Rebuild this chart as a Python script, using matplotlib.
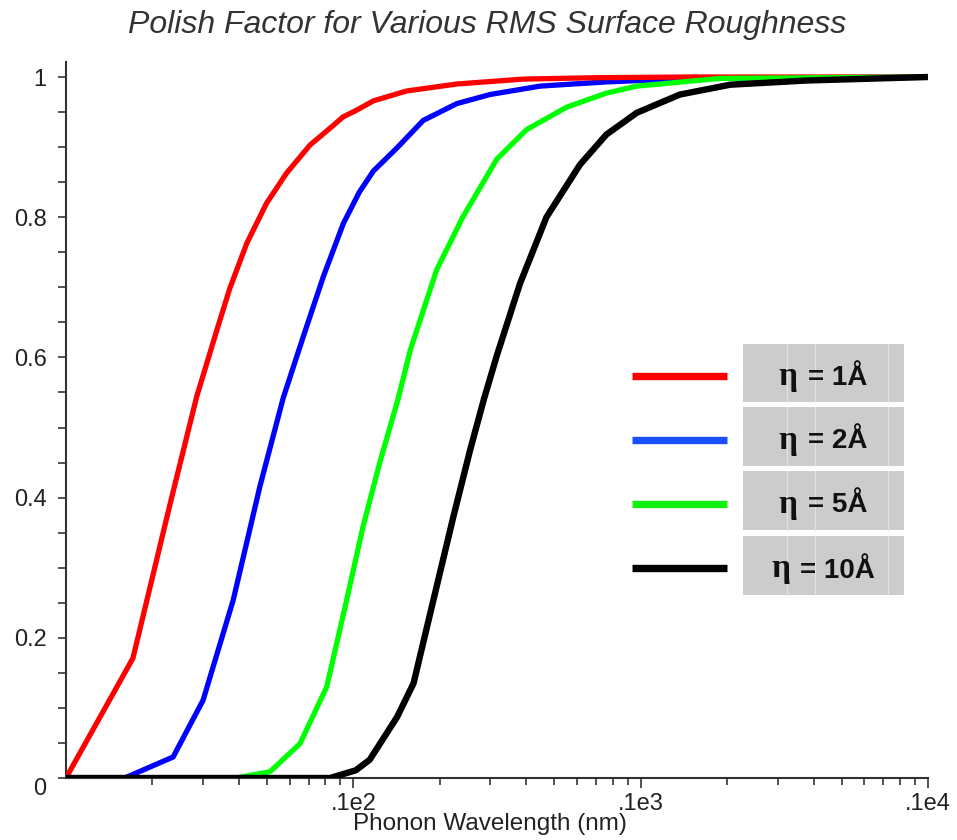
import numpy as np
import matplotlib
matplotlib.use("Agg")
from matplotlib import pyplot as plt
from matplotlib.lines import Line2D
from matplotlib.patches import Rectangle
from matplotlib.ticker import FixedLocator, FixedFormatter, LogLocator, NullFormatter

plt.rcParams['font.family'] = ['Liberation Sans', 'DejaVu Sans']

# phonon wavelength (nm) and polish factor for each rms roughness
lam_1 = [1, 1.71, 2.3, 2.85, 3.35, 3.72, 4.26, 4.99, 5.86, 7.07, 8.52, 9.2, 10.3, 11.75,
         15.3, 22.9, 39, 70, 150, 1000]
p_1 = [0, 0.171, 0.39, 0.544, 0.639, 0.699, 0.763, 0.82, 0.863, 0.903, 0.931, 0.943, 0.953,
       0.966, 0.98, 0.99, 0.997, 0.999, 1.0, 1.0]

lam_2 = [1, 1.6, 2.36, 3.0, 3.82, 4.73, 5.7, 6.7, 7.86, 9.23, 10.5, 11.75, 14.2, 17.5, 22.9,
         29.9, 44.7, 76, 150, 1000]
p_2 = [0, 0, 0.03, 0.111, 0.254, 0.416, 0.542, 0.63, 0.715, 0.791, 0.836, 0.866, 0.899,
       0.938, 0.962, 0.975, 0.987, 0.993, 0.998, 1.0]

lam_5 = [1, 3.9, 5.13, 6.52, 8.08, 9.48, 10.8, 12.4, 14.3, 15.8, 19.5, 24.1, 31.6, 40.1, 55.3,
         76, 97, 189, 1000]
p_5 = [0, 0, 0.009, 0.049, 0.13, 0.254, 0.358, 0.452, 0.54, 0.611, 0.725, 0.801, 0.883,
       0.925, 0.957, 0.977, 0.987, 0.998, 1.0]

lam_10 = [1, 8.3, 10.2, 11.4, 14.2, 16.2, 19, 22.3, 25.5, 28.5, 31.6, 38, 47, 61.5, 76, 97,
          137, 205, 378, 1000]
p_10 = [0, 0, 0.011, 0.026, 0.087, 0.135, 0.254, 0.373, 0.468, 0.541, 0.603, 0.705, 0.80,
        0.875, 0.918, 0.949, 0.975, 0.989, 0.995, 1.0]

eta_values = ['1', '2', '5', '10']
colors = ['#ff0000', '#0000ff', '#00ff00', '#000000']
key_colors = ['#ff0000', '#1a4fff', '#11f011', '#000000']

x_ticks = [10, 100, 1000]
x_ticklabels = ['.1e2', '.1e3', '.1e4']
y_ticks = [0, 0.2, 0.4, 0.6, 0.8, 1.0]
y_ticklabels = ['0', '0.2', '0.4', '0.6', '0.8', '1']

W, H = 957, 840
fig = plt.figure(figsize=(W / 100, H / 100), dpi=100)
ax = fig.add_axes([66 / W, 62 / H, 862 / W, 716 / H])

# blue and red underneath, black on top
ax.plot(lam_2, p_2, color=colors[1], lw=3.8, zorder=2)
ax.plot(lam_1, p_1, color=colors[0], lw=3.8, zorder=3)
ax.plot(lam_5, p_5, color=colors[2], lw=3.8, zorder=4)
ax.plot(lam_10, p_10, color=colors[3], lw=4.6, zorder=5)

ax.set_xscale('log')
ax.set_xlim(1, 1000)
ax.set_ylim(0, 716 / 701)

ax.xaxis.set_major_locator(FixedLocator(x_ticks))
ax.xaxis.set_major_formatter(FixedFormatter(x_ticklabels))
ax.xaxis.set_minor_locator(LogLocator(base=10, subs=np.arange(2, 10)))
ax.xaxis.set_minor_formatter(NullFormatter())
ax.yaxis.set_major_locator(FixedLocator(y_ticks))
ax.yaxis.set_major_formatter(FixedFormatter(y_ticklabels))
ax.yaxis.set_minor_locator(FixedLocator(np.arange(0.05, 1.0, 0.05)))

for s in ['top', 'right']:
    ax.spines[s].set_visible(False)
for s in ['left', 'bottom']:
    ax.spines[s].set_color('#333333')
    ax.spines[s].set_linewidth(1.5)
    ax.spines[s].set_zorder(1)

ax.tick_params(axis='x', which='major', direction='out', length=7, width=1.2, pad=4,
               labelsize=17, labelcolor='#222222', color='#333333')
ax.tick_params(axis='x', which='minor', direction='out', length=5, width=1.2, color='#333333')
ax.tick_params(axis='y', which='major', direction='out', length=6, width=1.2, pad=8,
               labelsize=17, labelcolor='#222222', color='#333333')
ax.tick_params(axis='y', which='minor', direction='out', length=6, width=1.2, color='#333333')
# the "0" sits just below the x axis
ax.yaxis.get_major_ticks()[0].label1.set_verticalalignment('top')

fig.text(487 / W, 1 - 25 / H, 'Polish Factor for Various RMS Surface Roughness',
         ha='center', va='center', fontsize=23, style='italic', color='#333333')
fig.text(490 / W, 1 - 824 / H, 'Phonon Wavelength (nm)', ha='center', va='center',
         fontsize=17.5, color='#222222')

# key: coloured strokes beside grey label boxes
line_y = [376, 440, 504, 568]
box_y = [(344, 402), (407, 466), (471, 530), (536, 595)]
renderer = fig.canvas.get_renderer()
for i in range(len(eta_values)):
    yl = 1 - line_y[i] / H
    fig.add_artist(Line2D([632 / W, 727 / W], [yl, yl], color=key_colors[i], lw=5.3,
                          solid_capstyle='butt'))
    y0, y1 = box_y[i]
    fig.add_artist(Rectangle((743 / W, 1 - y1 / H), 161 / W, (y1 - y0) / H,
                             facecolor='#cccccc', edgecolor='none'))
    for gx in [787, 815, 888]:
        fig.add_artist(Line2D([gx / W, gx / W], [1 - y1 / H, 1 - y0 / H], color='#e2e2e2',
                              lw=0.8))
    base = 1 - ((y0 + y1) / 2 + 12) / H
    eta = fig.text(0, base, 'η', ha='left', va='baseline', fontsize=24,
                   family='Liberation Serif', fontweight='bold', color='#111111')
    rest = fig.text(0, base, '= ' + eta_values[i] + 'Å', ha='left', va='baseline',
                    fontsize=20, fontweight='bold', color='#111111')
    # centre the pair inside the box
    w_eta = eta.get_window_extent(renderer).width
    w_rest = rest.get_window_extent(renderer).width
    gap = 10
    x0 = 823 - (w_eta + gap + w_rest) / 2
    eta.set_x(x0 / W)
    rest.set_x((x0 + w_eta + gap) / W)

plt.savefig('out.png', dpi=100)
